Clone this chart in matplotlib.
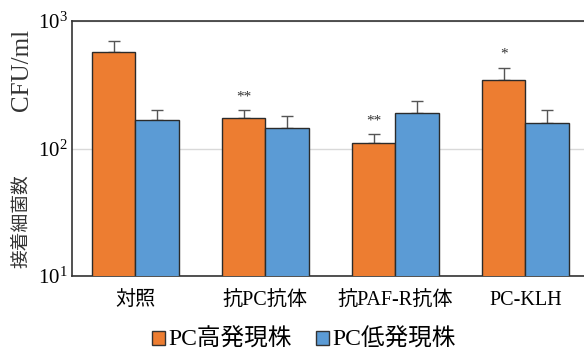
import matplotlib
matplotlib.use("Agg")
import matplotlib.pyplot as plt
import numpy as np

# Adherent bacteria counts (CFU/ml), log scale
categories = ["対照", "抗PC抗体", "抗PAF-R抗体", "PC-KLH"]
series_names = ["PC高発現株", "PC低発現株"]
high_mean = [574, 173, 111, 344]
high_err = [126, 27, 18, 84]
low_mean = [167, 146, 189, 159]
low_err = [33, 35, 48, 41]
signif = ["", "**", "**", "*"]

colors = ["#ED7D31", "#5B9BD5"]
fam = ["Liberation Serif", "Noto Sans CJK JP"]
plt.rcParams["font.family"] = fam
plt.rcParams["mathtext.fontset"] = "stix"

fig = plt.figure(figsize=(5.84, 3.55), dpi=100)
ax = fig.add_axes([72 / 584, 1 - 276 / 355, 1 - 72 / 584, (276 - 21) / 355])

x = np.arange(len(categories))
w = 0.335
ax.bar(x - w / 2, high_mean, w, color=colors[0], edgecolor="#2b2b2b", linewidth=1.0,
       label=series_names[0], zorder=3)
ax.bar(x + w / 2, low_mean, w, color=colors[1], edgecolor="#2b2b2b", linewidth=1.0,
       label=series_names[1], zorder=3)
ax.errorbar(x - w / 2, high_mean, yerr=[np.zeros(4), high_err], fmt="none",
            ecolor="#555555", elinewidth=1.0, capsize=4, capthick=1.0, zorder=2)
ax.errorbar(x + w / 2, low_mean, yerr=[np.zeros(4), low_err], fmt="none",
            ecolor="#555555", elinewidth=1.0, capsize=4, capthick=1.0, zorder=2)

for xi, m, e, s in zip(x, high_mean, high_err, signif):
    if s:
        ax.annotate(s, (xi - w / 2, m + e), xytext=(0, 5), textcoords="offset points",
                    ha="center", va="bottom", fontsize=11, color="#333333",
                    family="Liberation Serif")

ax.set_yscale("log")
ax.set_ylim(10, 1000)
ax.set_xlim(-0.487, 3.45)
ax.set_yticks([10, 100, 1000])
ax.yaxis.set_minor_locator(matplotlib.ticker.NullLocator())
ax.set_xticks(x)
ax.set_xticklabels(categories, fontsize=14.5)
ax.tick_params(axis="both", length=0)
ax.tick_params(axis="y", labelsize=15, pad=3)
ax.tick_params(axis="x", pad=11)
ax.grid(axis="y", which="major", color="#d9d9d9", linewidth=1.0, zorder=0)
ax.set_axisbelow(True)

for side in ["left", "top", "bottom"]:
    ax.spines[side].set_color("#333333")
    ax.spines[side].set_linewidth(1.2)
ax.spines["right"].set_visible(False)

# Y-axis title: quantity name and unit
fig.text(22 / 584, 1 - 221 / 355, "接着細菌数", rotation=90, ha="center",
         va="center", fontsize=13.5, color="#333333")
fig.text(22 / 584, 1 - 70 / 355, "CFU/ml", rotation=90, ha="center",
         va="center", fontsize=18, color="#333333")

leg = fig.legend(loc="center", bbox_to_anchor=(304 / 584, 1 - 340 / 355), ncol=2,
                 frameon=False, fontsize=17, handlelength=0.55, handleheight=0.55,
                 handletextpad=0.15, columnspacing=1.0)
for h in leg.legend_handles:
    h.set_edgecolor("#333333")
    h.set_linewidth(1.0)

fig.savefig("out.png", dpi=100)
